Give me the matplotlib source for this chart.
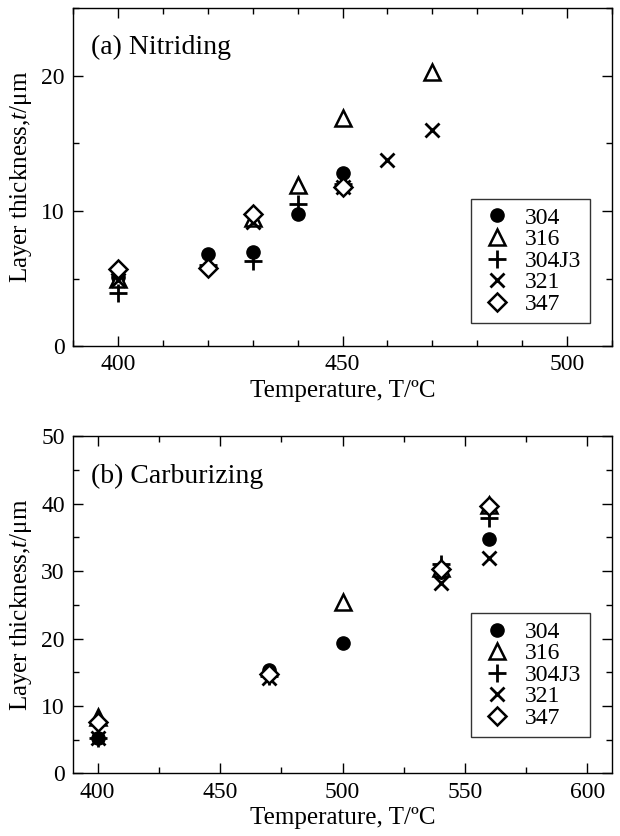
import numpy as np
from matplotlib import pyplot as plt
from matplotlib.ticker import MultipleLocator

plt.rcParams['font.family'] = ['Liberation Serif', 'DejaVu Serif']
plt.rcParams['mathtext.fontset'] = 'custom'
plt.rcParams['mathtext.rm'] = 'Liberation Serif'
plt.rcParams['mathtext.it'] = 'Liberation Serif:italic'

steels = ['304', '316', '304J3', '321', '347']

# (a) nitriding: temperature -> thickness for each steel
nit_T = {
    '304':   [400, 420, 430, 440, 450],
    '316':   [400, 430, 440, 450, 470],
    '304J3': [400, 420, 430, 440, 450],
    '321':   [400, 430, 450, 460, 470],
    '347':   [400, 420, 430, 450],
}
nit_t = {
    '304':   [5.1, 6.8, 7.0, 9.8, 12.8],
    '316':   [5.0, 9.5, 11.9, 16.9, 20.3],
    '304J3': [3.9, 6.0, 6.3, 10.5, 12.0],
    '321':   [4.9, 9.2, 11.8, 13.8, 16.0],
    '347':   [5.7, 5.8, 9.8, 11.8],
}

# (b) carburizing
car_T = {
    '304':   [400, 470, 500, 540, 560],
    '316':   [400, 500, 540, 560],
    '304J3': [400, 470, 540, 560],
    '321':   [400, 470, 540, 560],
    '347':   [400, 470, 540, 560],
}
car_t = {
    '304':   [5.3, 15.4, 19.4, 29.9, 34.7],
    '316':   [8.4, 25.4, 30.5, 39.8],
    '304J3': [5.2, 14.5, 31.0, 37.9],
    '321':   [5.2, 14.1, 28.3, 31.9],
    '347':   [7.6, 14.7, 30.3, 39.6],
}

styles = {
    '304':   dict(marker='o', ms=9.5, mfc='black', mec='black'),
    '316':   dict(marker='^', ms=12, mfc='white', mec='black', mew=1.8),
    '304J3': dict(marker='+', ms=13, mec='black', mew=2.0),
    '321':   dict(marker='x', ms=10.5, mec='black', mew=2.0),
    '347':   dict(marker='D', ms=9, mfc='white', mec='black', mew=1.8),
}

fig = plt.figure(figsize=(6.2, 8.36), dpi=100)
ax1 = fig.add_axes([0.118, 0.586, 0.869, 0.404])
ax2 = fig.add_axes([0.118, 0.075, 0.869, 0.403])


def style_axes(ax):
    ax.tick_params(which='both', direction='in', top=True, right=True,
                   labelsize=17, width=1.0)
    ax.tick_params(which='major', length=7, pad=6)
    ax.tick_params(which='minor', length=4)
    for s in ax.spines.values():
        s.set_linewidth(1.0)
    ax.set_xlabel('Temperature, T/ºC', fontsize=18, labelpad=3)
    ax.set_ylabel(r'Layer thickness,$\mathit{t}$/μm', fontsize=18, labelpad=5)


def draw(ax, T, t):
    for s in steels:
        ax.plot(T[s], t[s], ls='none', label=s, **styles[s])


draw(ax1, nit_T, nit_t)
ax1.set_xlim(390, 510)
ax1.set_ylim(0, 25)
ax1.xaxis.set_major_locator(MultipleLocator(50))
ax1.xaxis.set_minor_locator(MultipleLocator(10))
ax1.yaxis.set_major_locator(MultipleLocator(10))
ax1.yaxis.set_minor_locator(MultipleLocator(5))
style_axes(ax1)
ax1.text(0.033, 0.883, '(a) Nitriding', transform=ax1.transAxes,
         fontsize=20, va='center', ha='left')
leg1 = ax1.legend(loc='lower right', bbox_to_anchor=(0.959, 0.068),
                  fontsize=17, frameon=True, fancybox=False, edgecolor='black',
                  borderpad=0.35, handlelength=1.5, handletextpad=0.45,
                  labelspacing=0.0, borderaxespad=0)
leg1.get_frame().set_linewidth(1.0)

draw(ax2, car_T, car_t)
ax2.set_xlim(390, 610)
ax2.set_ylim(0, 50)
ax2.xaxis.set_major_locator(MultipleLocator(50))
ax2.xaxis.set_minor_locator(MultipleLocator(25))
ax2.yaxis.set_major_locator(MultipleLocator(10))
ax2.yaxis.set_minor_locator(MultipleLocator(5))
style_axes(ax2)
ax2.text(0.033, 0.881, '(b) Carburizing', transform=ax2.transAxes,
         fontsize=20, va='center', ha='left')
leg2 = ax2.legend(loc='lower right', bbox_to_anchor=(0.959, 0.107),
                  fontsize=17, frameon=True, fancybox=False, edgecolor='black',
                  borderpad=0.35, handlelength=1.5, handletextpad=0.45,
                  labelspacing=0.0, borderaxespad=0)
leg2.get_frame().set_linewidth(1.0)

fig.savefig('out.png', dpi=100)
